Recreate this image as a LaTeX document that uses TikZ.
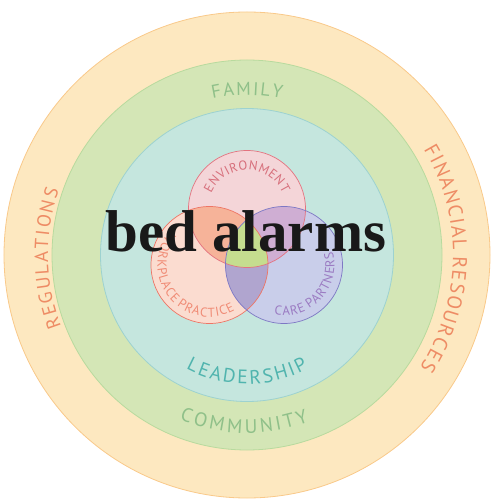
\documentclass[tikz,border=0pt]{standalone}
\usepackage{fontspec}
\setmainfont{Liberation Serif}
\newfontfamily\labelfont{PT Sans}
\usetikzlibrary{decorations.text}

\definecolor{outerfill}{HTML}{FDE8C0}
\definecolor{outerline}{HTML}{F9C98A}
\definecolor{midfill}{HTML}{D4E6B6}
\definecolor{midline}{HTML}{B8DA9E}
\definecolor{innerfill}{HTML}{C5E6DE}
\definecolor{innerline}{HTML}{9DD2D0}
\definecolor{envfill}{HTML}{F4D5D8}
\definecolor{envline}{HTML}{E4737F}
\definecolor{workfill}{HTML}{FBDCD0}
\definecolor{workline}{HTML}{EE7565}
\definecolor{carefill}{HTML}{C9CEEA}
\definecolor{careline}{HTML}{7E78C4}
\definecolor{envwork}{HTML}{F6B399}
\definecolor{envcare}{HTML}{CFAED3}
\definecolor{workcare}{HTML}{B0A5CF}
\definecolor{allthree}{HTML}{C5DD8F}
\definecolor{outertext}{HTML}{EE8C65}
\definecolor{midtext}{HTML}{8FC089}
\definecolor{innertext}{HTML}{50B4AE}
\definecolor{envtext}{HTML}{D7707C}
\definecolor{worktext}{HTML}{F08C76}
\definecolor{caretext}{HTML}{9B7BC2}

% font size, gap between letters, colour (letters are written with spaces between them)
\newcommand\arcfont[3]{\labelfont\fontsize{#1}{#1}\selectfont\fontdimen2\font=#2\relax\color{#3}}

\begin{document}
\begin{tikzpicture}[x=1pt,y=1pt,
    arc label/.style={decorate,
        decoration={text along path, text align=center, text={#1}}}]
\useasboundingbox (-247,-245) rectangle (251,255);

% the three rings
\coordinate (O) at (0,0);
\filldraw[fill=outerfill, draw=outerline, line width=0.8pt] (O) circle[radius=243];
\filldraw[fill=midfill, draw=midline, line width=0.8pt] (O) circle[radius=195];
\filldraw[fill=innerfill, draw=innerline, line width=0.8pt] (O) circle[radius=146.5];

% ring labels
\path[arc label={|\arcfont{19}{2.1pt}{outertext}|R E G U L A T I O N S}]
    (261:199) arc[start angle=261, end angle=101, radius=199];
\path[arc label={|\arcfont{20}{1.55pt}{outertext}|F I N A N C I A L~~~~R E S O U R C E S}]
    (79:206) arc[start angle=79, end angle=-81, radius=206];
\path[arc label={|\arcfont{18.5}{1.8pt}{midtext}|F A M I L Y}]
    (180:160) arc[start angle=180, end angle=0, radius=160];
\path[arc label={|\arcfont{19.5}{3pt}{midtext}|C O M M U N I T Y}]
    (179:178) arc[start angle=179, end angle=359, radius=178];
\path[arc label={|\arcfont{19.5}{2.3pt}{innertext}|L E A D E R S H I P}]
    (180:129) arc[start angle=180, end angle=360, radius=129];

% venn circles
\def\vr{58.5}
\coordinate (env) at (0,46);
\coordinate (work) at (-37.5,-10);
\coordinate (care) at (37,-10);
\fill[envfill] (env) circle[radius=\vr];
\fill[workfill] (work) circle[radius=\vr];
\fill[carefill] (care) circle[radius=\vr];
\begin{scope}
    \clip (env) circle[radius=\vr];
    \fill[envwork] (work) circle[radius=\vr];
    \fill[envcare] (care) circle[radius=\vr];
\end{scope}
\begin{scope}
    \clip (work) circle[radius=\vr];
    \fill[workcare] (care) circle[radius=\vr];
    \clip (care) circle[radius=\vr];
    \fill[allthree] (env) circle[radius=\vr];
\end{scope}
\draw[envline, line width=0.7pt] (env) circle[radius=\vr];
\draw[workline, line width=0.7pt] (work) circle[radius=\vr];
\draw[careline, line width=0.7pt] (care) circle[radius=\vr];

% venn labels
\path[shift={(env)}, arc label={|\arcfont{13}{0.5pt}{envtext}|E N V I R O N M E N T}]
    (180:39) arc[start angle=180, end angle=0, radius=39];
\path[shift={(work)}, arc label={|\arcfont{13}{0.9pt}{worktext}|W O R K P L A C E~~~~P R A C T I C E}]
    (40:52) arc[start angle=40, end angle=400, radius=52];
\path[shift={(care)}, arc label={|\arcfont{13}{0.9pt}{caretext}|C A R E~~~~P A R T N E R S}]
    (137:50.5) arc[start angle=137, end angle=497, radius=50.5];

% title
\node[anchor=base, font=\fontsize{59}{59}\selectfont\bfseries, text=black!90] (title) at (-1,3) {bed alarms};
\end{tikzpicture}
\end{document}
